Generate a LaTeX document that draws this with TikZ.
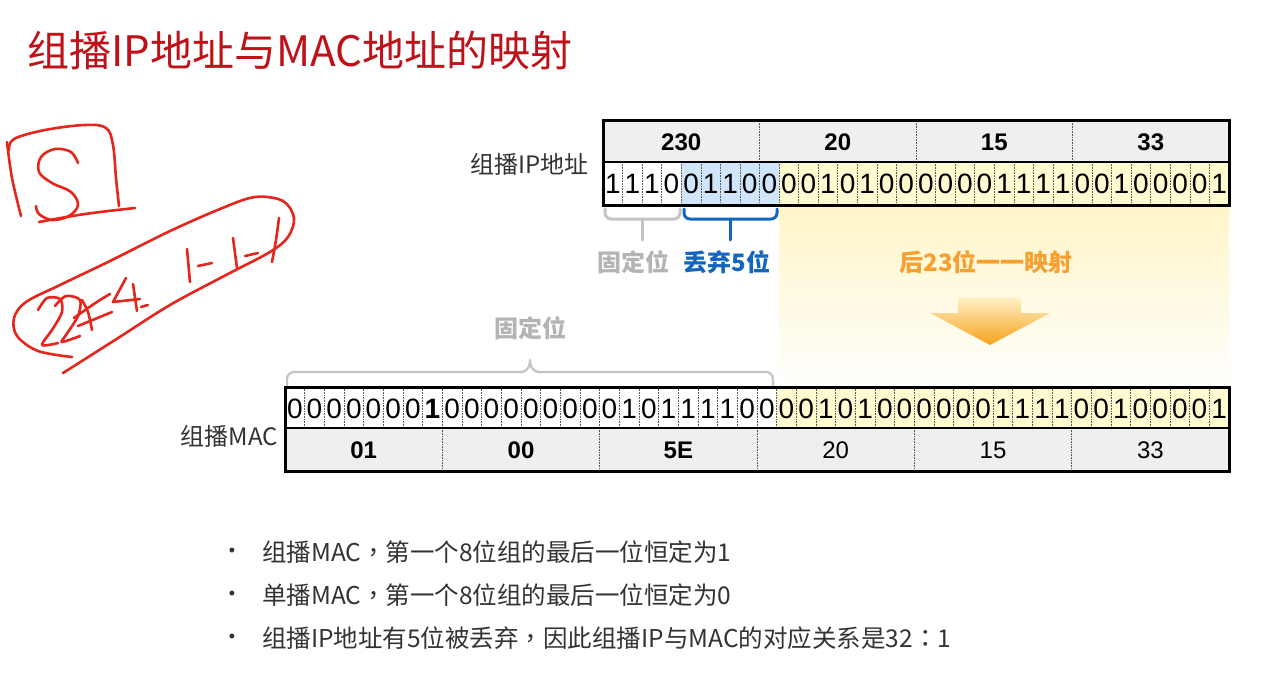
\documentclass[tikz,border=0pt]{standalone}
\usepackage{fontspec}
\setmainfont{Liberation Sans}
\newfontfamily\cjk{Noto Sans CJK SC}
\newfontfamily\cjkpunct{Noto Sans CJK TC}
\newcommand\zcomma{{\cjkpunct ，}}
\newcommand\zcolon{{\cjkpunct ：}}
\usetikzlibrary{calc}

\definecolor{titlered}{HTML}{BE1218}
\definecolor{hdrgray}{HTML}{EFEFEF}
\definecolor{bitblue}{HTML}{CFE6FA}
\definecolor{bityellow}{HTML}{FFFBD0}
\definecolor{fadeyellow}{HTML}{FFF5C8}
\definecolor{bracegray}{HTML}{C4C4C4}
\definecolor{labelgray}{HTML}{B4B4B4}
\definecolor{dropblue}{HTML}{1466BC}
\definecolor{maporange}{HTML}{F7A030}
\definecolor{arrowtop}{HTML}{FFF1C8}
\definecolor{arrowbot}{HTML}{F5A219}
\definecolor{inkred}{HTML}{E4261C}
\definecolor{textdark}{HTML}{333333}

\begin{document}
\begin{tikzpicture}[x=1pt,y=-1pt,
  bitnum/.style={inner sep=0pt, font=\fontsize{28}{28}\selectfont},
  octnum/.style={inner sep=0pt, font=\bfseries\fontsize{24}{24}\selectfont},
  octplain/.style={inner sep=0pt, font=\fontsize{24}{24}\selectfont},
  bitsep/.style={densely dotted, line width=0.6pt, black!65},
  frame/.style={line width=3pt, black},
  rowline/.style={line width=1.4pt, black},
  brace/.style={line width=3pt, line cap=round, rounded corners=6pt},
  rowlabel/.style={anchor=east, inner sep=0pt, font=\cjk\fontsize{24}{24}\selectfont, text=textdark},
  tag/.style={inner sep=0pt, font=\cjk\bfseries\fontsize{24}{24}\selectfont},
  bullettext/.style={anchor=west, inner sep=0pt, font=\cjk\fontsize{24.5}{24.5}\selectfont, text=textdark},
  bulletdot/.style={inner sep=0pt, font=\fontsize{18}{18}\selectfont, text=textdark},
  hand/.style={inkred, line width=2.6pt, line cap=round, line join=round}]

\useasboundingbox (0,0) rectangle (1273,687);
\fill[white] (0,0) rectangle (1273,687);

% ---------- title ----------
\node[anchor=west, inner sep=0pt, text=titlered, font=\cjk\fontsize{42}{42}\selectfont] (title) at (27,51) {组播IP地址与MAC地址的映射};

% ---------- geometry ----------
\pgfmathsetmacro\ipL{603}
\pgfmathsetmacro\ipW{(1229-603)/32}
\pgfmathsetmacro\macL{285}
\pgfmathsetmacro\macW{(1229-285)/48}

% fading band under the mapped 23 bits
\shade[top color=fadeyellow, bottom color=white] ({\ipL+9*\ipW},206) rectangle (1229,392);

% ---------- multicast IP address ----------
\fill[hdrgray] (\ipL,121) rectangle (1229,162);
\fill[bitblue] ({\ipL+4*\ipW},162) rectangle ({\ipL+9*\ipW},205);
\fill[bityellow] ({\ipL+9*\ipW},162) rectangle (1229,205);
\foreach \i in {1,...,31}
  \draw[bitsep] ({\ipL+\i*\ipW},162) -- ({\ipL+\i*\ipW},205);
\foreach \i in {8,16,24}
  \draw[bitsep] ({\ipL+\i*\ipW},121) -- ({\ipL+\i*\ipW},162);
\draw[rowline] (\ipL,162) -- (1229,162);
\draw[frame] (\ipL,121) rectangle (1229,205);

\foreach \v [count=\k from 0] in {230,20,15,33}
  \node[octnum] (ipo\k) at ({\ipL+(8*\k+4)*\ipW},142) {\v};
\foreach \b [count=\i from 0] in {1,1,1,0,0,1,1,0,0,0,0,1,0,1,0,0,0,0,0,0,1,1,1,1,0,0,1,0,0,0,0,1}
  \node[bitnum] (ipb\i) at ({\ipL+(\i+0.5)*\ipW},184) {\b};

\node[rowlabel] (iplabel) at (589,164) {组播IP地址};

% braces under the IP address
\draw[brace, bracegray] (605,209) -- (605,219) -- (680,219) -- (680,209);
\draw[brace, bracegray] (642.5,219) -- (642.5,240);
\draw[brace, dropblue] (684,209) -- (684,219) -- (777,219) -- (777,209);
\draw[brace, dropblue] (730.5,219) -- (730.5,240);

\node[tag, text=labelgray] (fixedip) at (633,262) {固定位};
\node[tag, text=dropblue] (drop) at (727,262) {丢弃5位};
\node[tag, text=maporange] (map) at (986,262) {后23位一一映射};

% mapping arrow
\shade[top color=arrowtop, bottom color=arrowbot]
  (958,297) -- (1021,297) -- (1021,313) -- (1050,313) -- (990,345) -- (930,313) -- (958,313) -- cycle;

% ---------- multicast MAC address ----------
\node[tag, text=labelgray] (fixedmac) at (530,328) {固定位};
\draw[bracegray, line width=2.2pt, line cap=round, rounded corners=7pt]
  (287,386) -- (287,372) -- (522,372);
\draw[bracegray, line width=2.2pt, line cap=round, rounded corners=7pt]
  (538,372) -- (773,372) -- (773,386);
\draw[bracegray, line width=2.2pt, line cap=round]
  (520,372) .. controls (528,372) and (530,366) .. (530,360)
  (540,372) .. controls (532,372) and (530,366) .. (530,360);

\fill[white] (\macL,387) rectangle (1229,428);
\fill[hdrgray] (\macL,428) rectangle (1229,471);
\fill[bityellow] ({\macL+25*\macW},387) rectangle (1229,428);
\foreach \i in {1,...,47}
  \draw[bitsep] ({\macL+\i*\macW},387) -- ({\macL+\i*\macW},428);
\foreach \i in {8,16,24,32,40}
  \draw[bitsep] ({\macL+\i*\macW},428) -- ({\macL+\i*\macW},471);
\draw[rowline] (\macL,428) -- (1229,428);
\draw[frame] (\macL,387) rectangle (1229,471);

\foreach \b [count=\i from 0] in {0,0,0,0,0,0,0,1,0,0,0,0,0,0,0,0,0,1,0,1,1,1,1,0,0,0,0,1,0,1,0,0,0,0,0,0,1,1,1,1,0,0,1,0,0,0,0,1}
  \node[bitnum] (macb\i) at ({\macL+(\i+0.5)*\macW},409) {\ifnum\i=7 \bfseries\fi\b};

\foreach \v [count=\k from 0] in {01,00,5E}
  \node[octnum] (maco\k) at ({\macL+(8*\k+4)*\macW},450) {\v};
\foreach \v [count=\k from 3] in {20,15,33}
  \node[octplain] (maco\k) at ({\macL+(8*\k+4)*\macW},450) {\v};

\node[rowlabel] (maclabel) at (278,436) {组播MAC};

% ---------- notes ----------
\foreach \t [count=\n from 0] in {组播MAC\zcomma 第一个8位组的最后一位恒定为1,单播MAC\zcomma 第一个8位组的最后一位恒定为0,组播IP地址有5位被丢弃\zcomma 因此组播IP与MAC的对应关系是32\zcolon 1}{
  \node[bulletdot] (dot\n) at (232,{552+43*\n}) {•};
  \node[bullettext] (note\n) at (262,{552+43*\n}) {\t};
}

% ---------- pen annotations ----------
% boxed S
\draw[hand] plot[smooth, tension=0.6] coordinates {(7,142) (12,178) (21,216)};
\draw[hand] plot[smooth, tension=0.6] coordinates {(9,150) (14,139) (45,130) (85,125) (106,128) (113,145) (116,178) (119,206)};
\draw[hand] plot[smooth, tension=0.6] coordinates {(39,222) (85,214) (135,208)};
\draw[hand] plot[smooth, tension=0.6] coordinates {(78,163) (71,152) (55,149) (41,157) (39,172) (52,183) (71,192) (78,205) (69,216) (52,220) (39,214) (36,206)};

% loop around the group address
\draw[hand] plot[smooth, tension=0.55] coordinates {(72,357) (38,351) (17,336) (14,318) (26,302) (60,285) (110,261) (168,232) (220,209) (255,197) (283,201) (294,218) (288,237) (270,252) (228,274) (170,305) (115,340) (63,373)};

% handwritten 224.1.1.1
\draw[hand] plot[smooth, tension=0.5] coordinates {(38,310) (47,298) (60,299) (62,312) (52,330) (42,345) (58,343)};
\draw[hand] plot[smooth, tension=0.5] coordinates {(55,306) (66,296) (80,300) (78,316) (66,335) (62,342) (80,336)};
\draw[hand] plot[smooth, tension=0.5] coordinates {(74,318) (88,308) (100,300) (110,294)};
\draw[hand] plot[smooth, tension=0.5] coordinates {(82,300) (88,312) (92,330)};
\draw[hand] (78,326) -- (112,312);
\draw[hand] (126,278) -- (113,302) -- (140,299);
\draw[hand] (133,284) -- (137,311);
\draw[hand] (141,307) -- (148,305);
\draw[hand] (187,249) -- (190,282);
\draw[hand] (198,266) -- (212,263);
\draw[hand] (233,238) -- (237,268);
\draw[hand] (245,256) -- (258,253);
\draw[hand] plot[smooth, tension=0.5] coordinates {(279,218) (276,240) (272,262)};
\end{tikzpicture}
\end{document}
